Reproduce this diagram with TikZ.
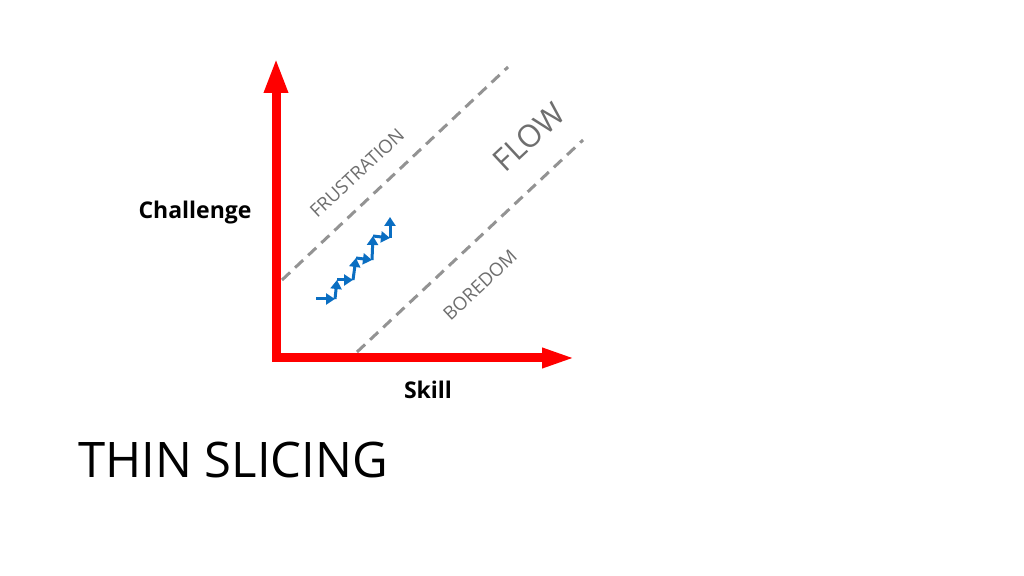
\documentclass[tikz,border=0pt]{standalone}
\usepackage{fontspec}
\setmainfont{Open Sans}
\usetikzlibrary{arrows.meta}
\definecolor{axisred}{HTML}{FF0000}
\definecolor{zonegray}{HTML}{6E6E6E}
\definecolor{dashgray}{HTML}{939393}
\definecolor{stepblue}{HTML}{0A6EC2}
\tikzset{
	zone/.style={text=zonegray, inner sep=0pt},
	flowline/.style={dashgray, line width=3pt, dash pattern=on 11pt off 7pt},
	stepline/.style={stepblue, line width=3pt, -{Triangle[length=9pt,width=11pt]}},
	axislabel/.style={font=\bfseries\fontsize{23}{26}\selectfont, inner sep=0pt}
}
\begin{document}
\begin{tikzpicture}[x=1pt,y=1pt]
	\fill [white] (0,0) rectangle (1024,575);
	\useasboundingbox (0,0) rectangle (1024,575);
	\coordinate (top) at (276,517);
	\coordinate (corner) at (276,217);
	\coordinate (right) at (576,217);
	\draw [axisred, line width=9pt, line join=miter,
		{Triangle[length=35pt,width=22pt]}-{Triangle[length=34pt,width=18pt]}]
		(top) -- (corner) -- (right);
	\node [axislabel] (challenge) at (195,362) {Challenge};
	\node [axislabel] (skill) at (428,185) {Skill};
	\coordinate (upper a) at (282,295);
	\coordinate (upper b) at (508,508);
	\coordinate (lower a) at (357,223);
	\coordinate (lower b) at (583,435);
	\draw [flowline] (upper a) -- (upper b);
	\draw [flowline] (lower a) -- (lower b);
	\foreach \name/\x/\y/\size/\labl in {
		frustration/357/402/18.5/FRUSTRATION,
		flow/529/438/31/FLOW,
		boredom/480/290/18.5/BOREDOM
	}
	{
		\node [zone, rotate=43, font=\fontsize{\size}{\size}\selectfont] (\name) at (\x,\y) {\labl};
	}
	\foreach [count=\i from 0] \x/\y in {
		316/276, 335/276, 337/295, 353/295, 356/317,
		372/315, 373/339, 390/337, 390/358
	}
	{
		\coordinate (p\i) at (\x,\y);
	}
	\foreach \a/\b in {p0/p1, p1/p2, p2/p3, p3/p4, p4/p5, p5/p6, p6/p7, p7/p8}
	{
		\draw [stepline] (\a) -- (\b);
	}
	\node [anchor=base west, inner sep=0pt, font=\fontsize{49}{56}\selectfont] (title) at (78,97) {THIN SLICING};
\end{tikzpicture}
\end{document}
